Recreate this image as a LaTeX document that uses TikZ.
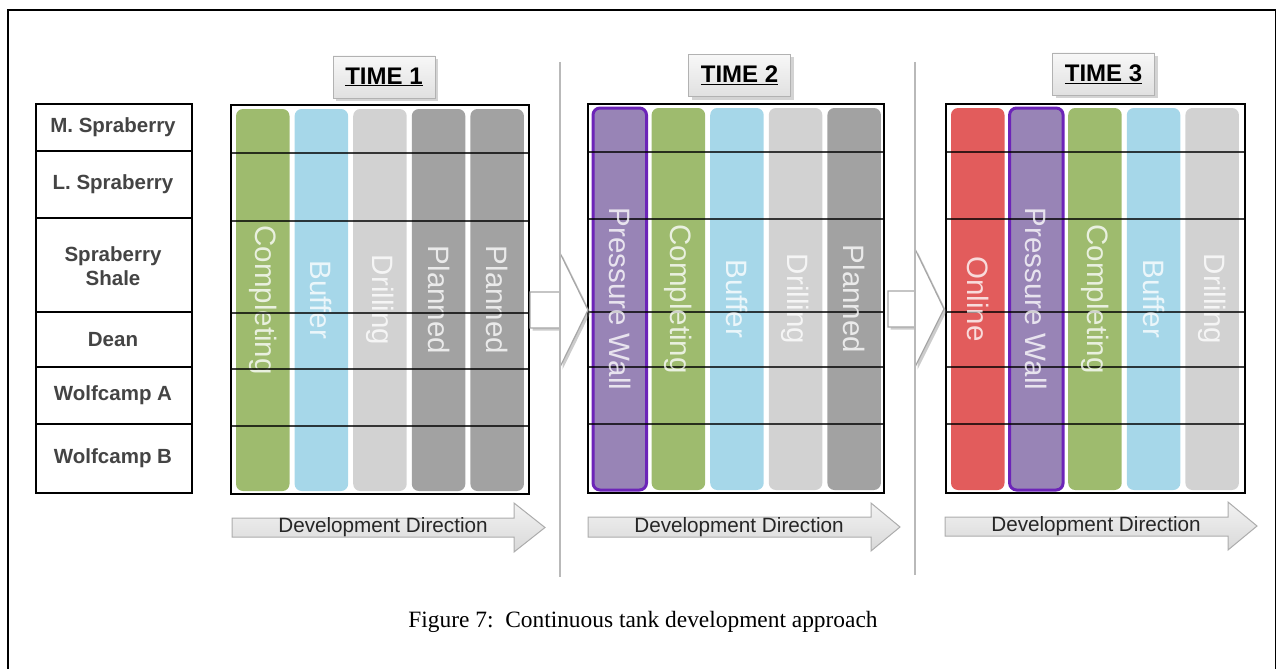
\documentclass[tikz,border=0pt]{standalone}
\usepackage{fontspec}
\setmainfont{Liberation Serif}
\newfontfamily\arialf{Liberation Sans}
\usetikzlibrary{shadows}
\definecolor{bargreen}{RGB}{158,187,110}
\definecolor{barblue}{RGB}{166,215,233}
\definecolor{barlight}{RGB}{210,210,210}
\definecolor{bardark}{RGB}{162,162,162}
\definecolor{barred}{RGB}{226,92,92}
\definecolor{barpurple}{RGB}{152,132,182}
\definecolor{purpleedge}{RGB}{108,36,184}
\definecolor{labelgray}{RGB}{68,68,68}
\tikzset{
  bartext/.style={rotate=-90, text=white, text opacity=0.78, font=\arialf\fontsize{29.5}{30}\selectfont, inner sep=0pt},
  barfill/.style={rounded corners=7pt},
  gridframe/.style={draw=black, line width=1.5pt},
  gridline/.style={draw=black, line width=1.3pt, opacity=0.75},
  timebox/.style={draw=gray!60, line width=0.8pt, top color=gray!6, bottom color=gray!24,
     minimum width=102pt, minimum height=42pt, inner sep=0pt,
     drop shadow={opacity=0.35, shadow xshift=3pt, shadow yshift=-3pt},
     font=\arialf\bfseries\fontsize{24}{26}\selectfont},
  tablecell/.style={draw=black, line width=1.5pt},
  tablelabel/.style={font=\arialf\bfseries\fontsize{20.5}{24}\selectfont, text=labelgray, align=center, inner sep=0pt},
  devarrow/.style={draw=gray!65, line width=1pt, top color=gray!10, bottom color=gray!30},
  devtext/.style={font=\arialf\fontsize{20.7}{21}\selectfont, text=black!85, inner sep=0pt},
  bigarrow/.style={fill=white, draw=gray!70, line width=1.2pt,
     drop shadow={opacity=0.4, shadow xshift=2.5pt, shadow yshift=-2.5pt}},
  sepline/.style={draw=gray!55, line width=2.2pt},
}
\begin{document}
\begin{tikzpicture}[x=1pt,y=-1pt]
\useasboundingbox (0,0) rectangle (1277,669);
% outer frame
\draw[line width=2.5pt] (8,670) -- (8,10) -- (1275.5,10);
\draw[line width=1.6pt] (1275.5,10) -- (1275.5,670);

% left table
\foreach \ya/\yb in {104/151,151/218,218/312,312/367,367/424,424/493}{
  \draw[tablecell] (36,\ya) rectangle (192,\yb);
}
\node[tablelabel] (lab1) at (113,127.5) {M. Spraberry};
\node[tablelabel] (lab2) at (113,184.5) {L. Spraberry};
\node[tablelabel] (lab3) at (113,266) {Spraberry\\Shale};
\node[tablelabel] (lab4) at (113,339.5) {Dean};
\node[tablelabel] (lab5) at (113,395.5) {Wolfcamp A};
\node[tablelabel] (lab6) at (113,458.5) {Wolfcamp B};

% ---------- grid 1 ----------
\foreach \c/\lab [count=\i from 0] in {bargreen/Completing, barblue/Buffer, barlight/Drilling, bardark/Planned, bardark/Planned}{
  \fill[\c, barfill] ({236+\i*58.6},109) rectangle ++(53.5,382);
  \node[bartext] (ga\i) at ({236+\i*58.6+26.75},300) {\lab};
}
\foreach \yy in {153,221,313,369,426}{ \draw[gridline] (231,\yy) -- (529,\yy); }
\draw[gridframe] (231,105) rectangle (529,494);

% ---------- grid 2 ----------
\foreach \c/\lab [count=\i from 0] in {barpurple/Pressure Wall, bargreen/Completing, barblue/Buffer, barlight/Drilling, bardark/Planned}{
  \fill[\c, barfill] ({593+\i*58.6},108) rectangle ++(53.5,382);
}
\draw[purpleedge, line width=3pt, barfill] (593,108) rectangle ++(53.5,382);
\foreach \yy in {152,219,312,367,424}{ \draw[gridline] (588,\yy) -- (884,\yy); }
\foreach \lab [count=\i from 0] in {Pressure Wall, Completing, Buffer, Drilling, Planned}{
  \node[bartext] (gb\i) at ({593+\i*58.6+26.75},299) {\lab};
}
\draw[gridframe] (588,104) rectangle (884,493);

% ---------- grid 3 ----------
\foreach \c/\lab [count=\i from 0] in {barred/Online, barpurple/Pressure Wall, bargreen/Completing, barblue/Buffer, barlight/Drilling}{
  \fill[\c, barfill] ({951+\i*58.6},108) rectangle ++(53.5,382);
}
\draw[purpleedge, line width=3pt, barfill] (1009.6,108) rectangle ++(53.5,382);
\foreach \yy in {152,219,312,367,424}{ \draw[gridline] (946,\yy) -- (1245,\yy); }
\foreach \lab [count=\i from 0] in {Online, Pressure Wall, Completing, Buffer, Drilling}{
  \node[bartext] (gc\i) at ({951+\i*58.6+26.75},299) {\lab};
}
\draw[gridframe] (946,104) rectangle (1245,493);

% TIME labels
\node[timebox] (t1) at (384,77) {\underline{TIME 1}};
\node[timebox] (t2) at (739.5,75.5) {\underline{TIME 2}};
\node[timebox] (t3) at (1103.5,74) {\underline{TIME 3}};

% big white arrows between the time steps
\draw[bigarrow] (530,292) -- (560,292) -- (560,253) -- (588,310) -- (560,367) -- (560,328) -- (530,328) -- cycle;
\draw[bigarrow] (888,291) -- (915,291) -- (915,249) -- (944,309) -- (915,367) -- (915,327) -- (888,327) -- cycle;

% separators
\draw[sepline] (560,62) -- (560,577);
\draw[sepline] (915,62) -- (915,575);

% development direction arrows
\draw[devarrow] (232,518) -- (514,518) -- (514,503) -- (545,527.5) -- (514,552) -- (514,537) -- (232,537) -- cycle;
\node[devtext] (d1) at (383,527.5) {Development Direction};
\draw[devarrow] (588,517) -- (871,517) -- (871,503) -- (900,527) -- (871,551) -- (871,537) -- (588,537) -- cycle;
\node[devtext] (d2) at (739,527) {Development Direction};
\draw[devarrow] (945,517) -- (1228,517) -- (1228,502) -- (1257,526) -- (1228,550) -- (1228,536) -- (945,536) -- cycle;
\node[devtext] (d3) at (1096,526) {Development Direction};

% caption
\node[font=\fontsize{23.4}{25}\selectfont, inner sep=0pt] (cap) at (643,622) {Figure 7:\ \ Continuous tank development approach};
\end{tikzpicture}
\end{document}
